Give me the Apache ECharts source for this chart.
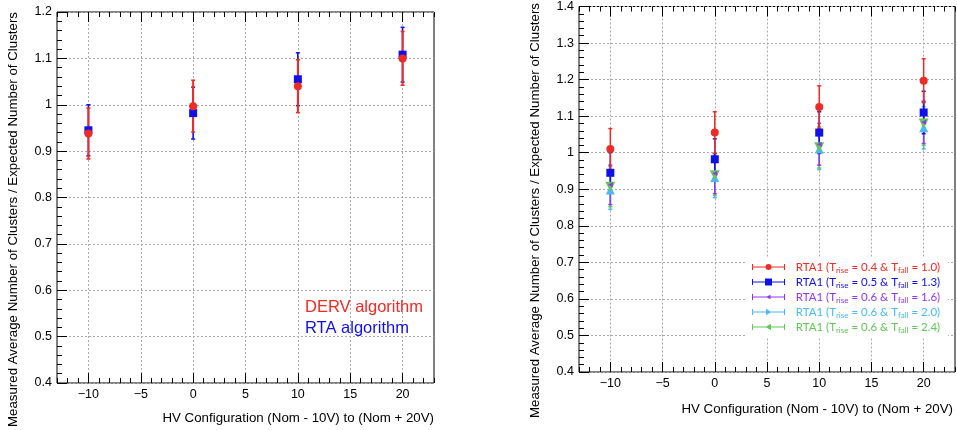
<!DOCTYPE html>
<html><head><meta charset="utf-8">
<script src="https://cdn.jsdelivr.net/npm/echarts@6/dist/echarts.min.js"></script>
<style>html,body{margin:0;padding:0;background:#fff}#c{width:957px;height:430px}</style>
</head><body><div id="c"></div><script>
// ---------- data ----------
const hvPoints = [-10, 0, 10, 20];
// left panel
const dervValues = [0.938, 0.997, 1.040, 1.100];
const dervErrors = [0.055, 0.056, 0.057, 0.058];
const rtaValues  = [0.945, 0.982, 1.055, 1.108];
const rtaErrors  = [0.055, 0.056, 0.057, 0.059];
// right panel
const rta1Names = [
  'RTA1 (Trise = 0.4 & Tfall = 1.0)',
  'RTA1 (Trise = 0.5 & Tfall = 1.3)',
  'RTA1 (Trise = 0.6 & Tfall = 1.6)',
  'RTA1 (Trise = 0.6 & Tfall = 2.0)',
  'RTA1 (Trise = 0.6 & Tfall = 2.4)'
];
const rta1aValues = [1.010, 1.055, 1.125, 1.197];
const rta1aErrors = [0.056, 0.057, 0.058, 0.060];
const rta1bValues = [0.945, 0.982, 1.055, 1.110];
const rta1bErrors = [0.055, 0.056, 0.057, 0.058];
const rta1cValues = [0.912, 0.943, 1.023, 1.083];
const rta1cErrors = [0.054, 0.055, 0.057, 0.058];
const rta1dValues = [0.898, 0.932, 1.010, 1.068];
const rta1dErrors = [0.053, 0.055, 0.056, 0.058];
const rta1eValues = [0.907, 0.938, 1.015, 1.080];
const rta1eErrors = [0.055, 0.055, 0.057, 0.060];
// axes
const xMin = -13, xMax = 23;
const xMajorTicks = [-10, -5, 0, 5, 10, 15, 20];
const leftYRange = [0.4, 1.2];
const rightYRange = [0.4, 1.4];
const xTitle = 'HV Configuration (Nom - 10V) to (Nom + 20V)';
const yTitle = 'Measured Average Number of Clusters / Expected Number of Clusters';
const leftLegendNames = ['DERV algorithm', 'RTA algorithm'];

// ---------- styling ----------
const RED = '#ee2b24', BLUE = '#1010e8', PURPLE = '#9436f0', CYAN = '#4cb8f5', GREEN = '#63c65a';
const FONT = 'Liberation Sans';
const xMinorTicks = [];
for (let v = xMin; v <= xMax; v++) xMinorTicks.push(v);
const gridLine = {show: true, lineStyle: {color: '#aaa', type: [2, 2], width: 1}};

function xAxes(g) {
  const base = {type: 'value', gridIndex: g, min: xMin, max: xMax, axisLine: {show: false, onZero: false}};
  const lbl = {customValues: xMajorTicks, margin: 5, fontSize: 12.5, fontFamily: FONT, color: '#000',
    formatter: v => String(v).replace('-', '\u2212')};
  return [
    Object.assign({}, base, {position: 'bottom', axisTick: {inside: true, length: 10, customValues: xMajorTicks, lineStyle: {color: '#000'}},
      axisLabel: lbl, splitLine: gridLine}),
    Object.assign({}, base, {position: 'bottom', axisTick: {inside: true, length: 5, customValues: xMinorTicks, lineStyle: {color: '#000'}},
      axisLabel: {show: false}, splitLine: {show: false}}),
    Object.assign({}, base, {position: 'top', axisTick: {inside: true, length: 10, customValues: xMajorTicks, lineStyle: {color: '#000'}},
      axisLabel: {show: false}, splitLine: {show: false}}),
    Object.assign({}, base, {position: 'top', axisTick: {inside: true, length: 5, customValues: xMinorTicks, lineStyle: {color: '#000'}},
      axisLabel: {show: false}, splitLine: {show: false}})
  ];
}
function yAxis(g, range) {
  return {type: 'value', gridIndex: g, min: range[0], max: range[1], interval: 0.1, position: 'left',
    axisLine: {show: false, onZero: false},
    axisTick: {inside: true, length: 10, lineStyle: {color: '#000'}},
    minorTick: {show: true, splitNumber: 5, length: 5, lineStyle: {color: '#000'}},
    axisLabel: {margin: 5, fontSize: 12.5, fontFamily: FONT, color: '#000'},
    splitLine: gridLine};
}

function errData(vals, errs) { return hvPoints.map((x, i) => [x, vals[i] - errs[i], vals[i] + errs[i]]); }
function ptData(vals) { return hvPoints.map((x, i) => [x, vals[i]]); }
function errSeries(name, vals, errs, color, xi, yi, lw, z) {
  return {
    name: name, type: 'custom', xAxisIndex: xi, yAxisIndex: yi, z: z, silent: true,
    itemStyle: {color: color}, encode: {x: 0, y: [1, 2]},
    data: errData(vals, errs),
    renderItem: function (params, api) {
      const x = api.value(0), lo = api.value(1), hi = api.value(2);
      const p1 = api.coord([x, lo]), p2 = api.coord([x, hi]);
      const c = api.visual('color'), w = 2;
      const st = {stroke: c, lineWidth: lw};
      return {type: 'group', children: [
        {type: 'line', shape: {x1: p1[0], y1: p1[1], x2: p2[0], y2: p2[1]}, style: st},
        {type: 'line', shape: {x1: p1[0] - w, y1: p1[1], x2: p1[0] + w, y2: p1[1]}, style: {stroke: c, lineWidth: 1.5}},
        {type: 'line', shape: {x1: p2[0] - w, y1: p2[1], x2: p2[0] + w, y2: p2[1]}, style: {stroke: c, lineWidth: 1.5}}
      ]};
    }
  };
}
function ptSeries(name, vals, color, symbol, size, rot, xi, yi, z) {
  return {name: name, type: 'scatter', xAxisIndex: xi, yAxisIndex: yi, z: z,
    symbol: symbol, symbolSize: size, symbolRotate: rot || 0,
    itemStyle: {color: color, opacity: 1}, data: ptData(vals)};
}

const capPath = 'M0 1 H1 V7 H0 Z M32 1 H33 V7 H32 Z ';
const icons = [
  'path://' + capPath + 'M1 3.5 H13.5 V4.5 H1 Z M19.5 3.5 H32 V4.5 H19.5 Z M13.5 4 A3 3 0 1 1 19.5 4 A3 3 0 1 1 13.5 4 Z',
  'path://' + capPath + 'M1 3.5 H13 V4.5 H1 Z M20 3.5 H32 V4.5 H20 Z M13 0.5 H20 V7.5 H13 Z',
  'path://' + capPath + 'M1 3.5 H32 V4.5 H1 Z M14 4 L18.5 1.8 L18.5 6.2 Z',
  'path://' + capPath + 'M1 3.5 H14 V4.5 H1 Z M19 3.5 H32 V4.5 H19 Z M19.5 4 L14 0.8 L14 7.2 Z',
  'path://' + capPath + 'M1 3.5 H14 V4.5 H1 Z M19 3.5 H32 V4.5 H19 Z M13.5 4 L19 0.8 L19 7.2 Z'
];
const rightColors = [RED, BLUE, PURPLE, CYAN, GREEN];

const series = [
  // left panel: RTA under DERV
  errSeries(leftLegendNames[1], rtaValues, rtaErrors, BLUE, 0, 0, 1.6, 2),
  errSeries(leftLegendNames[0], dervValues, dervErrors, RED, 0, 0, 2, 3),
  ptSeries(leftLegendNames[1], rtaValues, BLUE, 'rect', 8, 0, 0, 0, 4),
  ptSeries(leftLegendNames[0], dervValues, RED, 'circle', 8, 0, 0, 0, 5),
  // right panel
  errSeries(rta1Names[3], rta1dValues, rta1dErrors, CYAN, 4, 1, 1.5, 2),
  errSeries(rta1Names[4], rta1eValues, rta1eErrors, GREEN, 4, 1, 1.5, 2),
  errSeries(rta1Names[2], rta1cValues, rta1cErrors, PURPLE, 4, 1, 1.5, 2),
  errSeries(rta1Names[1], rta1bValues, rta1bErrors, BLUE, 4, 1, 1.5, 3),
  errSeries(rta1Names[0], rta1aValues, rta1aErrors, RED, 4, 1, 1.5, 3),
  ptSeries(rta1Names[3], rta1dValues, CYAN, 'triangle', 9, 0, 4, 1, 4),
  ptSeries(rta1Names[4], rta1eValues, GREEN, 'triangle', 10, 180, 4, 1, 5),
  ptSeries(rta1Names[2], rta1cValues, PURPLE, 'triangle', 5, 90, 4, 1, 6),
  ptSeries(rta1Names[1], rta1bValues, BLUE, 'rect', 8, 0, 4, 1, 7),
  ptSeries(rta1Names[0], rta1aValues, RED, 'circle', 8, 0, 4, 1, 8)
];

const chart = echarts.init(document.getElementById('c'), null, {renderer: 'canvas'});
chart.setOption({
  animation: false,
  backgroundColor: '#fff',
  grid: [
    {left: 57, top: 12, width: 377, height: 371, show: true, borderColor: '#000', borderWidth: 1, backgroundColor: 'transparent'},
    {left: 579, top: 2, width: 376, height: 370, show: true, borderColor: '#000', borderWidth: 1, backgroundColor: 'transparent'}
  ],
  xAxis: xAxes(0).concat(xAxes(1)),
  yAxis: [yAxis(0, leftYRange), yAxis(1, rightYRange)],
  legend: [
    {orient: 'vertical', left: 300, top: 297, padding: 0, itemWidth: 0, itemHeight: 0, itemGap: 1, selectedMode: false,
      data: [
        {name: leftLegendNames[0], icon: 'circle', textStyle: {color: RED}},
        {name: leftLegendNames[1], icon: 'circle', textStyle: {color: BLUE}}
      ],
      textStyle: {fontFamily: FONT, fontSize: 16.5, lineHeight: 20}},
    {orient: 'vertical', left: 747, top: 257, padding: [3, 8, 4, 5], backgroundColor: '#fff',
      itemWidth: 33, itemHeight: 8, itemGap: 1, selectedMode: false,
      data: rta1Names.map((n, i) => ({name: n, icon: icons[i], itemStyle: {color: rightColors[i]}, textStyle: {color: rightColors[i]}})),
      formatter: n => '\u2002' + n.replace('Trise', 'T{s|rise}').replace('Tfall', 'T{s|fall}'),
      textStyle: {fontFamily: 'Lato', fontSize: 11.5, lineHeight: 14,
        rich: {s: {fontFamily: 'Lato', fontSize: 8, lineHeight: 14, verticalAlign: 'bottom'}}}}
  ],
  graphic: [
    {type: 'text', x: 434, y: 418, style: {text: xTitle, align: 'right', verticalAlign: 'middle', fontFamily: FONT, fontSize: 13.3, fill: '#000'}},
    {type: 'text', x: 953, y: 409, style: {text: xTitle, align: 'right', verticalAlign: 'middle', fontFamily: FONT, fontSize: 13.3, fill: '#000'}},
    {type: 'text', x: 13, y: 12, rotation: Math.PI / 2, style: {text: yTitle, align: 'right', verticalAlign: 'middle', fontFamily: FONT, fontSize: 13.3, fill: '#000'}},
    {type: 'text', x: 535, y: 3, rotation: Math.PI / 2, style: {text: yTitle, align: 'right', verticalAlign: 'middle', fontFamily: FONT, fontSize: 13.3, fill: '#000'}}
  ],
  series: series
});
</script></body></html>
